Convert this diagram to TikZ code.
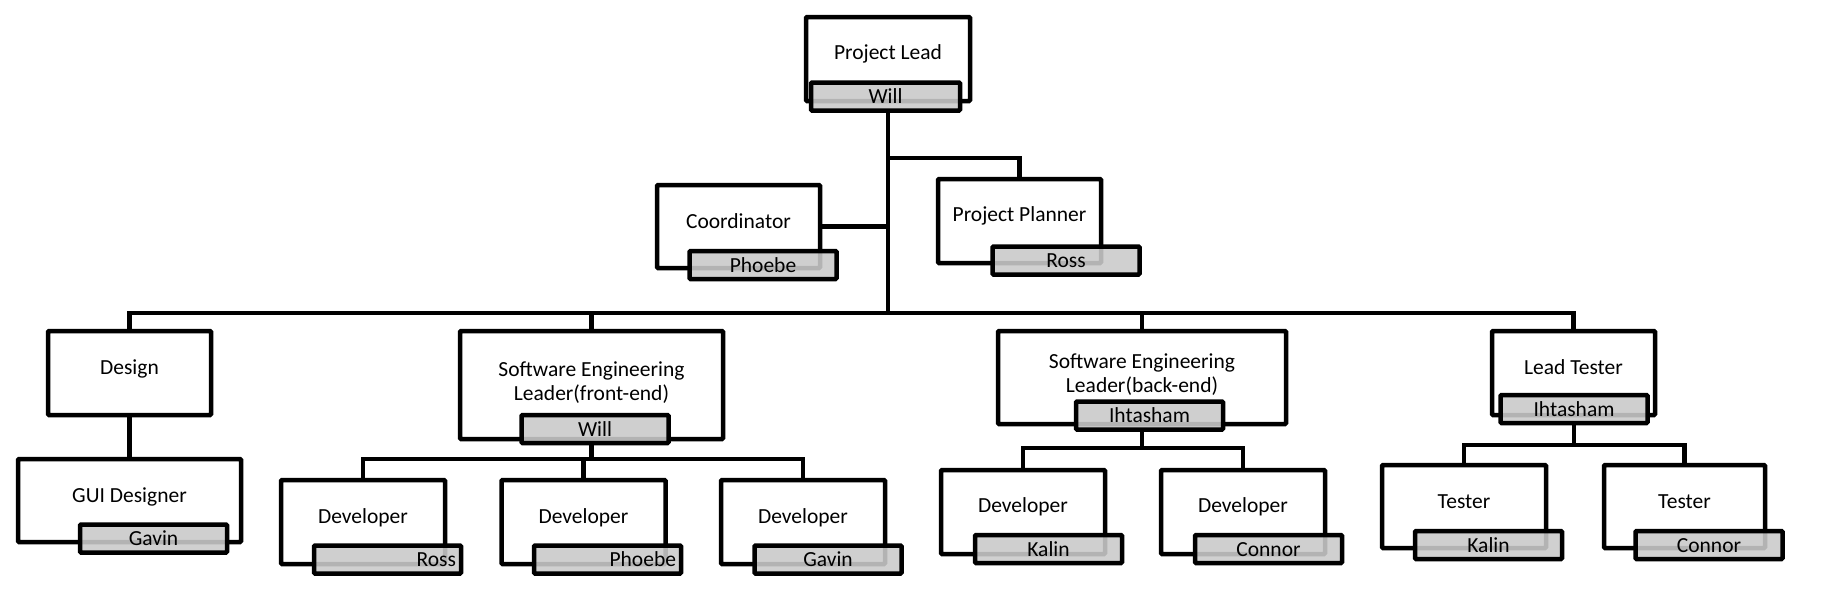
\documentclass[tikz,border=0pt]{standalone}
\usepackage{fontspec}
\setmainfont{Carlito}
\definecolor{tagfill}{RGB}{202,202,202}
\begin{document}
\begin{tikzpicture}[x=1pt,y=-1pt,
  box/.style={draw, line width=4.5pt, fill=white, rounded corners=1pt, inner sep=0pt, minimum width=164pt, minimum height=84pt},
  tag/.style={draw, line width=4.5pt, fill=tagfill, fill opacity=0.89, draw opacity=1, text opacity=1, rounded corners=1pt,
    minimum width=147pt, minimum height=28pt, inner sep=0pt, text height=0.8em, text depth=0.12em},
  rtag/.style={tag, inner xsep=5pt, text width=137pt, align=right},
  txt/.style={inner sep=0pt, align=center, text height=0.7em, text depth=0.25em, yshift=-3pt},
  txt2/.style={inner sep=0pt, align=center, yshift=-3pt},
  conn/.style={line width=4.5pt}
]
\fontsize{21.5}{24}\selectfont
\useasboundingbox (0,0) rectangle (1824,614);

% top level
\node[box] (pl) at (888,59) {};
\node[txt] (plt) at (888,52) {Project Lead};
\node[tag, minimum width=149pt] (plw) at (885.5,96.5) {Will};

\node[box, minimum width=163pt, minimum height=83pt] (co) at (738.5,226.5) {};
\node[txt] (cot) at (738.5,221) {Coordinator};
\node[tag] (cow) at (763,265) {Phoebe};

\node[box, minimum width=163pt] (pp) at (1019.5,221) {};
\node[txt] (ppt) at (1019.5,214) {Project Planner};
\node[tag] (ppw) at (1066,260.5) {Ross};

% second level
\node[box, minimum width=163pt] (de) at (129.5,373) {};
\node[txt] (det) at (129.5,367) {Design};

\node[box, minimum width=223pt, minimum height=83pt] (gui) at (129.5,500.5) {};
\node[txt] (guit) at (129.5,495) {GUI Designer};
\node[tag] (guiw) at (153.5,538.5) {Gavin};

\node[box, minimum width=263pt, minimum height=108pt] (sef) at (591.5,385) {};
\node[txt2] (seft) at (591.5,380) {Software Engineering\\Leader(front-end)};
\node[tag] (sefw) at (595,429) {Will};

\node[box] (dr) at (363,522) {};
\node[txt] (drt) at (363,516) {Developer};
\node[rtag] (drw) at (387.5,559.5) {Ross};

\node[box] (dp) at (583.5,522) {};
\node[txt] (dpt) at (583.5,516) {Developer};
\node[rtag] (dpw) at (607.5,559.5) {Phoebe};

\node[box] (dg) at (803,522) {};
\node[txt] (dgt) at (803,516) {Developer};
\node[tag] (dgw) at (828,559.5) {Gavin};

\node[box, minimum width=288pt, minimum height=93pt] (seb) at (1142,377.5) {};
\node[txt2] (sebt) at (1142,371.5) {Software Engineering\\Leader(back-end)};
\node[tag] (sebw) at (1149.5,415.5) {Ihtasham};

\node[box] (dk) at (1023,512) {};
\node[txt] (dkt) at (1023,505) {Developer};
\node[tag] (dkw) at (1048.5,549) {Kalin};

\node[box] (dc) at (1243,512) {};
\node[txt] (dct) at (1243,505) {Developer};
\node[tag] (dcw) at (1268.5,549) {Connor};

\node[box, minimum width=163pt] (lt) at (1573.5,373) {};
\node[txt] (ltt) at (1573.5,367) {Lead Tester};
\node[tag] (ltw) at (1574,409) {Ihtasham};

\node[box, minimum height=83pt] (tk) at (1464,506.5) {};
\node[txt] (tkt) at (1464,501) {Tester};
\node[tag] (tkw) at (1488.5,545) {Kalin};

\node[box, minimum width=161pt, minimum height=83pt] (tc) at (1684.5,506.5) {};
\node[txt] (tct) at (1684.5,501) {Tester};
\node[tag] (tcw) at (1709,545) {Connor};

% connectors
\coordinate (bus) at (888,313);
\coordinate (pj) at (888,158);
\draw[conn] (plw.south -| pl) -- (bus);
\draw[conn] (co.east) -- (co.east -| bus);
\draw[conn] (pj) -| (pp.north);
\draw[conn] (de.north) -- (de.north |- bus) -- (lt.north |- bus) -- (lt.north);
\draw[conn] (sef.north) -- (sef.north |- bus);
\draw[conn] (seb.north) -- (seb.north |- bus);
\draw[conn] (de.south) -- (gui.north);

\coordinate (sfb) at (591.5,459);
\draw[conn] (sefw.south -| sef) -- (sfb);
\draw[conn] (dr.north) -- (dr.north |- sfb) -- (dg.north |- sfb) -- (dg.north);
\draw[conn] (dp.north) -- (dp.north |- sfb);

\coordinate (sbb) at (1142,448);
\draw[conn] (sebw.south -| seb) -- (sbb);
\draw[conn] (dk.north) -- (dk.north |- sbb) -- (dc.north |- sbb) -- (dc.north);

\coordinate (ltb) at (1574,445);
\draw[conn] (ltw.south) -- (ltb);
\draw[conn] (tk.north) -- (tk.north |- ltb) -- (tc.north |- ltb) -- (tc.north);
\end{tikzpicture}
\end{document}
